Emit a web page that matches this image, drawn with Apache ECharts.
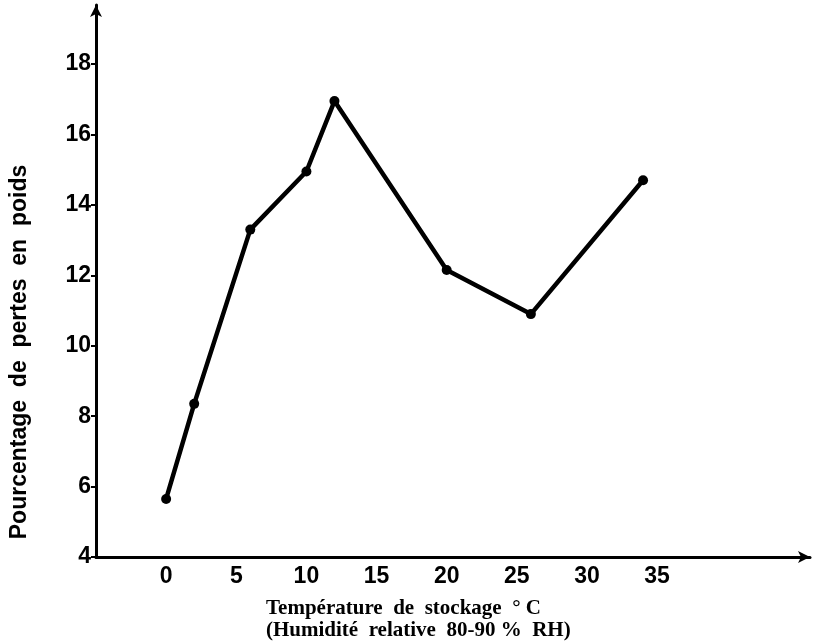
<!DOCTYPE html>
<html>
<head>
<meta charset="utf-8">
<script src="https://cdn.jsdelivr.net/npm/echarts@6/dist/echarts.min.js"></script>
<style>
  html, body { margin: 0; padding: 0; background: #fff; }
  #main { width: 820px; height: 644px; }
</style>
</head>
<body>
<div id="main"></div>
<script>
// temperature (°C) and weight loss (%)
var temps = [0, 2, 6, 10, 12, 20, 26, 34]
var pertes = [5.65, 8.35, 13.3, 14.95, 16.95, 12.15, 10.9, 14.7]
var xTicks = [0, 5, 10, 15, 20, 25, 30, 35]
var yTicks = [4, 6, 8, 10, 12, 14, 16, 18]

var xTitle = 'Température  de  stockage  ° C\n(Humidité  relative  80-90 %  RH)'
var yTitle = 'Pourcentage  de  pertes  en  poids'

var data = []
for (var i = 0; i < temps.length; i++) {
    data.push([temps[i], pertes[i]])
}

var sans = "'Liberation Sans', Arial, sans-serif"

var option = {
    backgroundColor: '#fff',
    animation: false,
    grid: {
        left: 96,
        right: 10,
        top: 5,
        bottom: 87
    },
    title: {
        text: xTitle,
        left: 266,
        top: 598,
        padding: 0,
        textStyle: {
            fontFamily: "'Liberation Serif', 'Times New Roman', serif",
            fontWeight: 'bold',
            fontSize: 21,
            lineHeight: 22,
            color: '#000'
        }
    },
    graphic: [{
        type: 'text',
        x: 20,
        y: 352,
        rotation: Math.PI / 2,
        style: {
            text: yTitle,
            font: 'bold 23px ' + sans,
            fill: '#000',
            align: 'center',
            verticalAlign: 'middle'
        }
    }],
    xAxis: {
        type: 'value',
        min: -5,
        max: 45.9,
        interval: 5,
        splitLine: { show: false },
        axisLine: {
            onZero: false,
            symbol: ['none', 'arrow'],
            symbolSize: [9, 12],
            lineStyle: { color: '#000', width: 3 }
        },
        axisTick: { show: false },
        axisLabel: {
            customValues: xTicks,
            margin: 8,
            color: '#000',
            fontFamily: sans,
            fontWeight: 'bold',
            fontSize: 23
        }
    },
    yAxis: {
        type: 'value',
        min: 4,
        max: 19.68,
        interval: 2,
        splitLine: { show: false },
        axisLine: {
            onZero: false,
            symbol: ['none', 'arrow'],
            symbolSize: [9, 12],
            lineStyle: { color: '#000', width: 3 }
        },
        axisTick: {
            customValues: yTicks,
            length: 5,
            lineStyle: { color: '#000', width: 2 }
        },
        axisLabel: {
            customValues: yTicks,
            margin: 5,
            color: '#000',
            fontFamily: sans,
            fontWeight: 'bold',
            fontSize: 23
        }
    },
    series: [{
        type: 'line',
        data: data,
        symbol: 'circle',
        symbolSize: 10,
        itemStyle: { color: '#000' },
        lineStyle: { color: '#000', width: 4.5 }
    }]
}

var chart = echarts.init(document.getElementById('main'))
chart.setOption(option)
</script>
</body>
</html>
